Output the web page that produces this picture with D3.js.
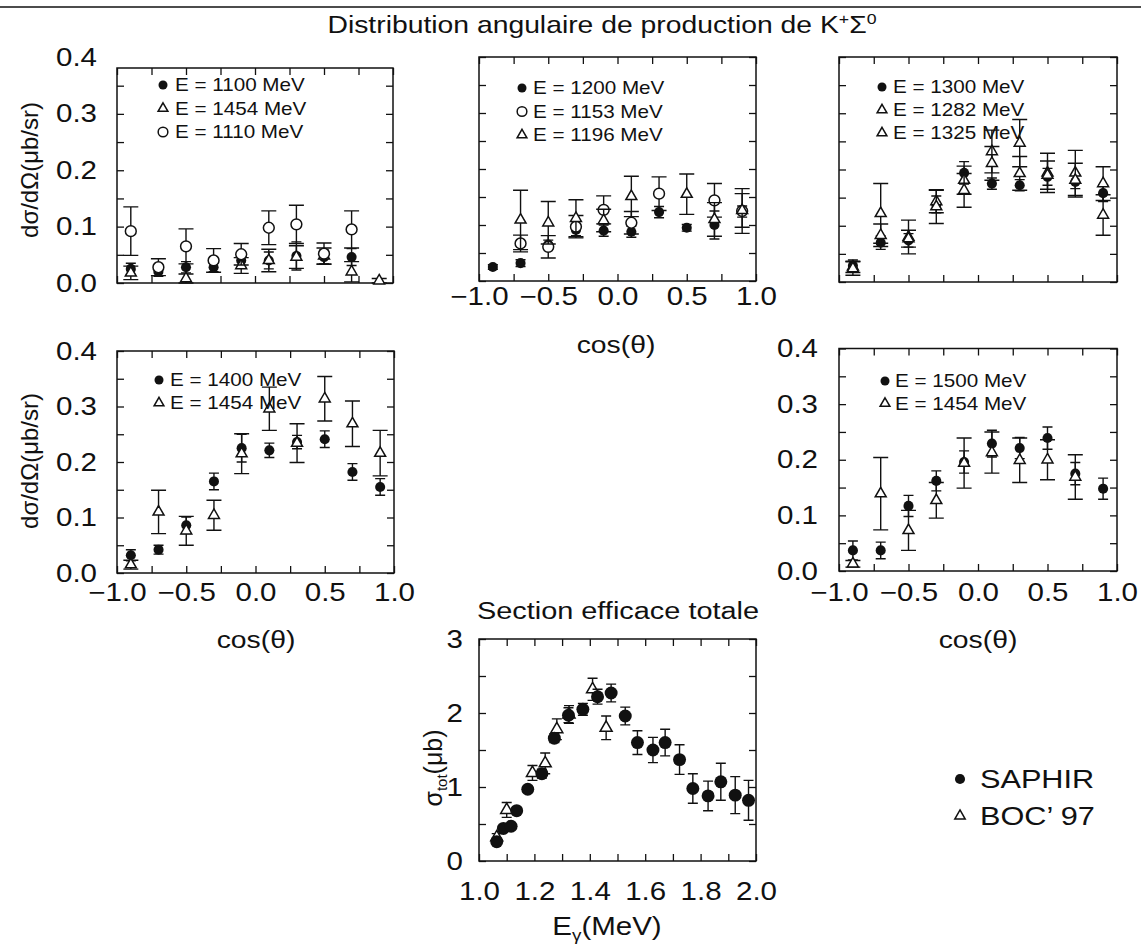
<!DOCTYPE html>
<html>
<head>
<meta charset="utf-8">
<script src="https://cdn.jsdelivr.net/npm/d3@7"></script>
<style>
  body { margin: 0; background: #fff; }
  svg text { font-family: "Liberation Sans", Arial, Helvetica, sans-serif; fill: #111; }
  .sx { transform-box: fill-box; transform: scaleX(1.18); }
  .sx.c { transform-origin: 50% 50%; }
  .sx.r { transform-origin: 100% 50%; }
  .sx.l { transform-origin: 0% 50%; }
</style>
</head>
<body>
<svg id="chart" width="1141" height="949"></svg>
<script>
// ---- data ----
const cosBins = [-0.9, -0.7, -0.5, -0.3, -0.1, 0.1, 0.3, 0.5, 0.7, 0.9];

// panel 1
const p1_1100 = [0.025, 0.020, 0.028, 0.028, 0.040, 0.040, 0.048, 0.046, 0.046, null];
const p1_1100err = [0.010, 0.008, 0.010, 0.008, 0.012, 0.015, 0.025, 0.012, 0.015, null];
const p1_1454 = [0.018, null, 0.008, null, 0.031, 0.040, 0.046, 0.048, 0.020, 0.004];
const p1_1454err = [0.012, null, 0.008, null, 0.014, 0.020, 0.020, 0.014, 0.018, 0.004];
const p1_1110 = [0.092, 0.028, 0.065, 0.040, 0.051, 0.098, 0.104, 0.052, 0.095, null];
const p1_1110err = [0.043, 0.015, 0.031, 0.021, 0.019, 0.030, 0.034, 0.019, 0.033, null];

// panel 2
const p2_1200 = [0.025, 0.032, 0.065, 0.091, 0.090, 0.088, 0.123, 0.095, 0.100, 0.124];
const p2_1200err = [0.004, 0.006, 0.008, 0.010, 0.010, 0.010, 0.010, 0.006, 0.025, 0.010];
const p2_1153 = [null, 0.067, 0.061, 0.097, 0.127, 0.104, 0.156, null, 0.144, 0.125];
const p2_1153err = [null, 0.015, 0.020, 0.020, 0.025, 0.020, 0.030, null, 0.030, 0.040];
const p2_1196 = [null, 0.109, 0.104, 0.112, 0.108, 0.151, null, 0.155, 0.110, 0.126];
const p2_1196err = [null, 0.053, 0.038, 0.033, 0.020, 0.036, null, 0.036, 0.030, 0.030];

// panel 3
const p3_1300 = [0.029, 0.070, 0.074, 0.138, 0.194, 0.175, 0.172, 0.187, 0.178, 0.158];
const p3_1300err = [0.010, 0.012, 0.012, 0.015, 0.020, 0.010, 0.010, 0.015, 0.012, 0.015];
const p3_1282 = [0.027, 0.122, 0.080, 0.143, 0.181, 0.232, 0.193, 0.194, 0.194, 0.175];
const p3_1282err = [0.010, 0.053, 0.030, 0.020, 0.025, 0.038, 0.030, 0.035, 0.040, 0.030];
const p3_1325 = [0.024, 0.083, 0.077, 0.134, 0.163, 0.211, 0.247, 0.190, 0.181, 0.119];
const p3_1325err = [0.012, 0.020, 0.015, 0.030, 0.030, 0.030, 0.042, 0.025, 0.030, 0.036];

// panel 4
const p4_1400 = [0.032, 0.042, 0.086, 0.165, 0.225, 0.221, 0.236, 0.241, 0.182, 0.155];
const p4_1400err = [0.010, 0.008, 0.015, 0.015, 0.025, 0.013, 0.012, 0.015, 0.015, 0.015];
const p4_1454 = [0.015, 0.110, 0.076, 0.104, 0.215, 0.296, 0.234, 0.314, 0.269, 0.216];
const p4_1454err = [0.008, 0.039, 0.026, 0.027, 0.036, 0.039, 0.035, 0.040, 0.041, 0.041];

// panel 5
const p5_1500 = [0.037, 0.037, 0.117, 0.162, 0.196, 0.229, 0.221, 0.239, 0.175, 0.148];
const p5_1500err = [0.017, 0.015, 0.019, 0.018, 0.020, 0.024, 0.019, 0.020, 0.020, 0.019];
const p5_1454 = [0.013, 0.139, 0.073, 0.127, 0.194, 0.213, 0.199, 0.200, 0.169, null];
const p5_1454err = [0.006, 0.065, 0.036, 0.032, 0.045, 0.037, 0.040, 0.036, 0.040, null];

// panel 6: total cross section
const saphirE = [1.064, 1.088, 1.116, 1.136, 1.176, 1.227, 1.272, 1.323, 1.375, 1.428, 1.477,
                 1.528, 1.572, 1.628, 1.672, 1.724, 1.772, 1.827, 1.873, 1.925, 1.973];
const saphirSigma = [0.26, 0.44, 0.47, 0.68, 0.97, 1.18, 1.66, 1.97, 2.05, 2.22, 2.27,
                     1.96, 1.60, 1.50, 1.60, 1.37, 0.98, 0.88, 1.07, 0.89, 0.82];
const saphirErr = [0.03, 0.03, 0.03, 0.04, 0.04, 0.06, 0.06, 0.10, 0.08, 0.10, 0.12,
                   0.12, 0.16, 0.17, 0.18, 0.20, 0.20, 0.20, 0.25, 0.25, 0.27];
const bocE = [1.064, 1.100, 1.193, 1.239, 1.281, 1.325, 1.410, 1.459];
const bocSigma = [0.32, 0.69, 1.19, 1.32, 1.78, 1.98, 2.32, 1.80];
const bocErr = [0.05, 0.10, 0.10, 0.14, 0.14, 0.12, 0.15, 0.16];

const cosTicks = d3.range(-1, 1.001, 0.25);
const cosLabels = [-1, -0.5, 0, 0.5, 1];
const dsigTicks = d3.range(0, 0.401, 0.05);
const dsigLabels = [0, 0.1, 0.2, 0.3, 0.4];
const eTicks = d3.range(1, 2.001, 0.1);
const eLabels = [1.0, 1.2, 1.4, 1.6, 1.8, 2.0];
const sigTicks = d3.range(0, 3.001, 0.5);
const sigLabels = [0, 1, 2, 3];

// ---- drawing ----
const svg = d3.select('#chart');
const ink = '#111';
const markerArea = { filled: 80, open: 92, tri: 52 };

function marker(sel, kind, scale) {
  const type = kind === 'tri' ? d3.symbolTriangle : d3.symbolCircle;
  sel.attr('d', d3.symbol(type, markerArea[kind] * (scale || 1))())
    .attr('fill', kind === 'filled' ? ink : '#fff')
    .attr('stroke', ink)
    .attr('stroke-width', kind === 'filled' ? 0 : 1.5);
}

const panels = [
  { left: 117, right: 393, top: 57.5, bottom: 283, frameTop: 68,
    yLabels: true, yPad: 20, yTitle: 170,
    legend: { mx: 163, tx: 175, y0: 85, dy: 23.5 },
    series: [
      { kind: 'filled', label: 'E = 1100 MeV', v: p1_1100, e: p1_1100err },
      { kind: 'tri', label: 'E = 1454 MeV', v: p1_1454, e: p1_1454err },
      { kind: 'open', label: 'E = 1110 MeV', v: p1_1110, e: p1_1110err }
    ] },
  { left: 479, right: 756, top: 57, bottom: 281,
    xLabels: true, xPad: 6, xTitle: { x: 616, y: 353 },
    legend: { mx: 522, tx: 533, y0: 88, dy: 23.5 },
    series: [
      { kind: 'filled', label: 'E = 1200 MeV', v: p2_1200, e: p2_1200err },
      { kind: 'open', label: 'E = 1153 MeV', v: p2_1153, e: p2_1153err },
      { kind: 'tri', label: 'E = 1196 MeV', v: p2_1196, e: p2_1196err }
    ] },
  { left: 839, right: 1117, top: 57, bottom: 282,
    legend: { mx: 882, tx: 893, y0: 87, dy: 23 },
    series: [
      { kind: 'filled', label: 'E = 1300 MeV', v: p3_1300, e: p3_1300err },
      { kind: 'tri', label: 'E = 1282 MeV', v: p3_1282, e: p3_1282err },
      { kind: 'tri', label: 'E = 1325 MeV', v: p3_1325, e: p3_1325err }
    ] },
  { left: 117, right: 394, top: 351, bottom: 573,
    yLabels: true, yPad: 20, yTitle: 461,
    xLabels: true, xPad: 10, xTitle: { x: 256, y: 648 },
    legend: { mx: 159, tx: 170, y0: 380, dy: 23 },
    series: [
      { kind: 'filled', label: 'E = 1400 MeV', v: p4_1400, e: p4_1400err },
      { kind: 'tri', label: 'E = 1454 MeV', v: p4_1454, e: p4_1454err }
    ] },
  { left: 839, right: 1117, top: 348.5, bottom: 571,
    yLabels: true, yPad: 21,
    xLabels: true, xPad: 12, xTitle: { x: 978, y: 648 },
    legend: { mx: 885, tx: 895, y0: 381, dy: 22.5 },
    series: [
      { kind: 'filled', label: 'E = 1500 MeV', v: p5_1500, e: p5_1500err },
      { kind: 'tri', label: 'E = 1454 MeV', v: p5_1454, e: p5_1454err }
    ] }
];

function frameAndTicks(g, x, y, box, xt, yt) {
  g.append('rect')
    .attr('x', box.left).attr('y', box.frameTop)
    .attr('width', box.right - box.left).attr('height', box.bottom - box.frameTop)
    .attr('fill', 'none').attr('stroke', ink).attr('stroke-width', 1.5);
  const yIn = yt.filter(v => y(v) >= box.frameTop - 0.5);
  const sides = [
    [d3.axisBottom(x).tickValues(xt), `translate(0,${box.bottom})`],
    [d3.axisTop(x).tickValues(xt), `translate(0,${box.frameTop})`],
    [d3.axisLeft(y).tickValues(yIn), `translate(${box.left},0)`],
    [d3.axisRight(y).tickValues(yIn), `translate(${box.right},0)`]
  ];
  sides.forEach(([ax, tr]) => {
    const a = g.append('g').attr('transform', tr)
      .call(ax.tickSizeInner(-7).tickSizeOuter(0).tickFormat(''));
    a.select('.domain').remove();
    a.selectAll('line').attr('stroke', ink).attr('stroke-width', 1.3);
  });
}

function tickLabels(g, axis, tr, size) {
  const a = g.append('g').attr('transform', tr).call(axis);
  a.select('.domain').remove();
  a.selectAll('line').remove();
  a.attr('font-size', null).attr('font-family', null);
  return a.selectAll('text').style('font-size', size + 'px');
}

function errorBars(g, x, y, pts, cap) {
  g.append('g').selectAll('path').data(pts).join('path')
    .attr('d', d => {
      const cx = x(d.x), t = y(d.v + d.e), b = y(d.v - d.e), w = cap / 2;
      return `M${cx},${t}V${b}M${cx - w},${t}H${cx + w}M${cx - w},${b}H${cx + w}`;
    })
    .attr('fill', 'none').attr('stroke', ink).attr('stroke-width', 1.4);
}

function yTitleDsig(cy) {
  svg.append('text')
    .attr('transform', `translate(38,${cy}) rotate(-90)`)
    .attr('text-anchor', 'middle')
    .style('font-size', '24px')
    .text('dσ/dΩ(μb/sr)');
}

function cosTitle(pos) {
  svg.append('text').attr('class', 'sx c')
    .attr('x', pos.x).attr('y', pos.y).attr('text-anchor', 'middle')
    .style('font-size', '24px').text('cos(θ)');
}

panels.forEach(p => {
  const x = d3.scaleLinear().domain([-1, 1]).range([p.left, p.right]);
  const y = d3.scaleLinear().domain([0, 0.4]).range([p.bottom, p.top]);
  const box = { left: p.left, right: p.right, bottom: p.bottom,
                frameTop: p.frameTop !== undefined ? p.frameTop : p.top };
  const g = svg.append('g');
  frameAndTicks(g, x, y, box, cosTicks, dsigTicks);

  if (p.yLabels) {
    tickLabels(g, d3.axisLeft(y).tickValues(dsigLabels).tickSize(0).tickPadding(p.yPad)
      .tickFormat(d3.format('.1f')), `translate(${p.left},0)`, 25).attr('class', 'sx r');
  }
  if (p.xLabels) {
    tickLabels(g, d3.axisBottom(x).tickValues(cosLabels).tickSize(0).tickPadding(p.xPad)
      .tickFormat(d3.format('.1f')), `translate(0,${p.bottom})`, 25).attr('class', 'sx c');
    cosTitle(p.xTitle);
  }
  if (p.yTitle) yTitleDsig(p.yTitle);

  // data
  p.series.forEach(s => {
    const pts = cosBins.map((c, i) => ({ x: c, v: s.v[i], e: s.e[i] })).filter(d => d.v != null);
    errorBars(g, x, y, pts, s.kind === 'filled' ? 10 : 15);
    g.append('g').selectAll('path').data(pts).join('path')
      .attr('transform', d => `translate(${x(d.x)},${y(d.v)})`)
      .call(sel => marker(sel, s.kind));
  });

  // in-panel legend
  const lg = g.append('g');
  p.series.forEach((s, i) => {
    const ly = p.legend.y0 + i * p.legend.dy;
    lg.append('path').attr('transform', `translate(${p.legend.mx},${ly})`).call(sel => marker(sel, s.kind, 0.8));
    lg.append('text').attr('class', 'sx l')
      .attr('x', p.legend.tx).attr('y', ly).attr('dy', '0.36em')
      .style('font-size', '17.5px').text(s.label);
  });
});

// ---- total cross-section panel ----
(function () {
  const box = { left: 479, right: 756, bottom: 861, frameTop: 639 };
  const x = d3.scaleLinear().domain([1, 2]).range([box.left, box.right]);
  const y = d3.scaleLinear().domain([0, 3]).range([box.bottom, box.frameTop]);
  const g = svg.append('g');
  frameAndTicks(g, x, y, box, eTicks, sigTicks);

  tickLabels(g, d3.axisLeft(y).tickValues(sigLabels).tickSize(0).tickPadding(16)
    .tickFormat(d3.format('d')), `translate(${box.left},0)`, 25).attr('class', 'sx r');
  tickLabels(g, d3.axisBottom(x).tickValues(eLabels).tickSize(0).tickPadding(21)
    .tickFormat(d3.format('.1f')), `translate(0,${box.bottom})`, 25).attr('class', 'sx c');

  const saphir = saphirE.map((e, i) => ({ x: e, v: saphirSigma[i], e: saphirErr[i] }));
  const boc = bocE.map((e, i) => ({ x: e, v: bocSigma[i], e: bocErr[i] }));
  errorBars(g, x, y, boc, 10);
  g.append('g').selectAll('path').data(boc).join('path')
    .attr('transform', d => `translate(${x(d.x)},${y(d.v)})`)
    .call(sel => marker(sel, 'tri', 1.2));
  errorBars(g, x, y, saphir, 10);
  g.append('g').selectAll('path').data(saphir).join('path')
    .attr('transform', d => `translate(${x(d.x)},${y(d.v)})`)
    .call(sel => marker(sel, 'filled', 1.65));

  svg.append('text').attr('class', 'sx c')
    .attr('x', 618).attr('y', 619).attr('text-anchor', 'middle')
    .style('font-size', '24.5px').text('Section efficace totale');

  const xt = svg.append('text').attr('class', 'sx c')
    .attr('x', 607).attr('y', 935).attr('text-anchor', 'middle').style('font-size', '25px');
  xt.append('tspan').text('E');
  xt.append('tspan').attr('dy', 6).style('font-size', '16px').text('γ');
  xt.append('tspan').attr('dy', -6).text('(MeV)');

  const yt = svg.append('text')
    .attr('transform', 'translate(442,768) rotate(-90)')
    .attr('text-anchor', 'middle').style('font-size', '25px');
  yt.append('tspan').text('σ');
  yt.append('tspan').attr('dy', 5).style('font-size', '15px').text('tot');
  yt.append('tspan').attr('dy', -5).text('(μb)');

  // outside legend
  const lg = svg.append('g');
  const items = [{ kind: 'filled', label: 'SAPHIR', y: 779 }, { kind: 'tri', label: 'BOC’ 97', y: 816 }];
  items.forEach(it => {
    lg.append('path').attr('transform', `translate(960,${it.y})`).call(sel => marker(sel, it.kind, it.kind === 'tri' ? 0.9 : 1.0));
    lg.append('text').attr('class', 'sx l')
      .attr('x', 980).attr('y', it.y).attr('dy', '0.36em')
      .style('font-size', '26px').text(it.label);
  });
})();

// ---- page title and top rule ----
svg.append('line').attr('x1', 0).attr('x2', 1141).attr('y1', 7).attr('y2', 7)
  .attr('stroke', ink).attr('stroke-width', 1.6);

const title = svg.append('text').attr('class', 'sx c')
  .attr('x', 602).attr('y', 33).attr('text-anchor', 'middle').style('font-size', '24px');
title.append('tspan').text('Distribution angulaire de production de K');
title.append('tspan').attr('dy', -9).style('font-size', '15px').text('+');
title.append('tspan').attr('dy', 9).text('Σ');
title.append('tspan').attr('dy', -9).style('font-size', '15px').text('0');
</script>
</body>
</html>
